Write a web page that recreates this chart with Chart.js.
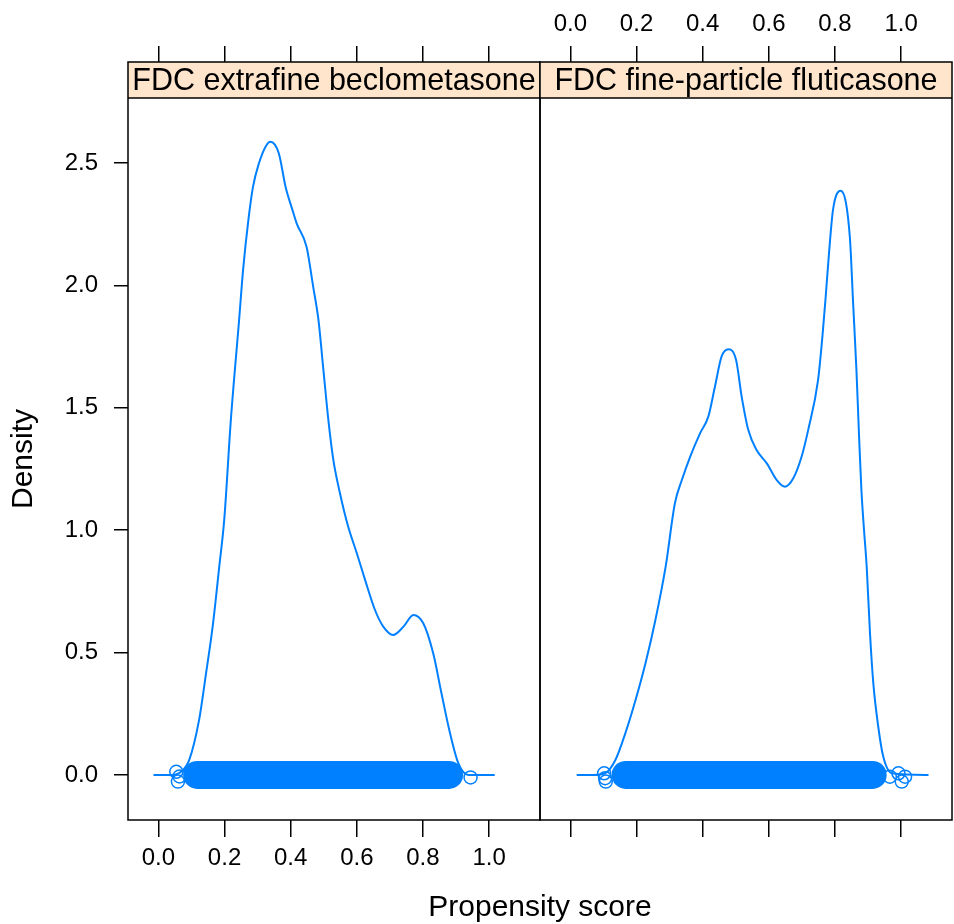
<!DOCTYPE html>
<html>
<head>
<meta charset="utf-8">
<script src="https://cdn.jsdelivr.net/npm/chart.js@4.4.1/dist/chart.umd.min.js"></script>
<style>
  html, body { margin: 0; padding: 0; background: #fff; }
  #wrap { position: relative; width: 954px; height: 924px; }
</style>
</head>
<body>
<div id="wrap"><canvas id="grafico"></canvas></div>
<script>
// panel titles and ticks
const panelNames = ['FDC extrafine beclometasone', 'FDC fine-particle fluticasone'];
const xTicks = [0, 0.2, 0.4, 0.6, 0.8, 1.0];
const yTicks = [0, 0.5, 1.0, 1.5, 2.0, 2.5];

// density curve, extrafine beclometasone
const beclX = [-0.015, 0.04, 0.063, 0.093, 0.123, 0.144, 0.164, 0.184, 0.199, 0.219, 0.244, 0.256, 0.272, 0.286,
  0.304, 0.324, 0.339, 0.364, 0.385, 0.405, 0.418, 0.448, 0.468, 0.484, 0.499, 0.514, 0.529, 0.549, 0.574, 0.6,
  0.625, 0.655, 0.68, 0.71, 0.741, 0.771, 0.801, 0.831, 0.856, 0.882, 0.907, 0.937, 0.97, 1.017];
const beclY = [0, 0, 0.008, 0.061, 0.225, 0.415, 0.606, 0.851, 1.042, 1.45, 1.859, 2.063, 2.267, 2.403,
  2.499, 2.567, 2.587, 2.54, 2.40, 2.31, 2.254, 2.158, 1.995, 1.859, 1.654, 1.45, 1.287, 1.151, 1.014, 0.906,
  0.797, 0.674, 0.606, 0.572, 0.606, 0.654, 0.62, 0.497, 0.334, 0.17, 0.048, 0.0, 0, 0];

// density curve, fine-particle fluticasone
const flutX = [0.019, 0.07, 0.105, 0.136, 0.166, 0.197, 0.227, 0.257, 0.288, 0.316, 0.337, 0.362, 0.392, 0.417,
  0.437, 0.457, 0.478, 0.501, 0.518, 0.538, 0.563, 0.594, 0.624, 0.649, 0.674, 0.699, 0.719, 0.749, 0.762, 0.772,
  0.782, 0.794, 0.817, 0.845, 0.855, 0.865, 0.873, 0.88, 0.888, 0.896, 0.906, 0.916, 0.931, 0.946, 0.972, 1.083];
const flutY = [0, 0, 0.007, 0.061, 0.17, 0.306, 0.456, 0.633, 0.851, 1.11, 1.205, 1.30, 1.396, 1.464,
  1.586, 1.709, 1.739, 1.695, 1.545, 1.409, 1.328, 1.273, 1.205, 1.178, 1.212, 1.30, 1.409, 1.614, 1.79, 1.954,
  2.131, 2.308, 2.387, 2.199, 1.927, 1.654, 1.382, 1.164, 1.0, 0.851, 0.579, 0.375, 0.197, 0.075, 0.007, 0];

// dense band of observations drawn at density 0 (start, end)
const beclRug = [0.117, 0.879];
const flutRug = [0.167, 0.914];

// isolated observations in the tails (x, jittered y)
const beclTailX = [0.054, 0.059, 0.064, 0.944];
const beclTailY = [0.013, -0.027, -0.006, -0.01];
const flutTailX = [0.102, 0.105, 0.107, 0.966, 0.992, 1.002, 1.012];
const flutTailY = [0.007, -0.013, -0.027, -0.007, 0.007, -0.027, -0.007];

const FONT = 'Liberation Sans, Arial, Helvetica, sans-serif';
const BLUE = '#0080ff';
const STRIP_H = 36;

const pts = (xs, ys) => xs.map((x, i) => ({ x: x, y: ys[i] }));

function xAxis(position, showLabels, weight) {
  return {
    type: 'linear',
    position: position,
    stack: position,
    stackWeight: 1,
    weight: weight,
    min: -0.092,
    max: 1.154,
    afterBuildTicks: s => { s.ticks = xTicks.map(v => ({ value: v })); },
    afterFit: s => {
      s.height = position === 'top' ? 62 : 104;
      s.paddingLeft = 0;
      s.paddingRight = 0;
    },
    ticks: {
      display: showLabels,
      font: { family: FONT, size: 24 },
      color: '#000',
      padding: 7,
      maxRotation: 0,
      autoSkip: false,
      callback: v => v.toFixed(1)
    },
    grid: { drawOnChartArea: false, tickLength: position === 'top' ? 16 : 17, color: '#000', lineWidth: 1.5 },
    border: { display: false }
  };
}

// strips, panel boxes and the shared axis titles
const latticePanels = {
  id: 'latticePanels',
  afterDraw(chart) {
    const ctx = chart.ctx;
    const { top, bottom } = chart.chartArea;
    ctx.save();
    ['xL', 'xR'].forEach((id, i) => {
      const s = chart.scales[id];
      ctx.fillStyle = '#ffe5cc';
      ctx.fillRect(s.left, top, s.right - s.left, STRIP_H);
      ctx.strokeStyle = '#000';
      ctx.lineWidth = 1.5;
      ctx.beginPath();
      ctx.moveTo(s.left, top + STRIP_H);
      ctx.lineTo(s.right, top + STRIP_H);
      ctx.stroke();
      ctx.strokeRect(s.left, top, s.right - s.left, bottom - top);
      ctx.fillStyle = '#000';
      ctx.font = '30.5px ' + FONT;
      ctx.textAlign = 'center';
      ctx.textBaseline = 'alphabetic';
      ctx.fillText(panelNames[i], (s.left + s.right) / 2, top + 28);
    });

    ctx.font = '30px ' + FONT;
    ctx.textAlign = 'center';
    ctx.textBaseline = 'middle';
    ctx.fillText('Propensity score', (chart.scales.xL.left + chart.scales.xR.right) / 2, 908);
    ctx.translate(24, (top + STRIP_H + bottom) / 2);
    ctx.rotate(-Math.PI / 2);
    ctx.fillText('Density', 0, 0);
    ctx.restore();
  }
};

const curve = (xs, ys, axis) => ({
  data: pts(xs, ys), xAxisID: axis, yAxisID: 'y',
  borderColor: BLUE, borderWidth: 2, pointRadius: 0,
  cubicInterpolationMode: 'monotone', fill: false
});
const band = (range, axis) => ({
  data: [{ x: range[0], y: 0 }, { x: range[1], y: 0 }], xAxisID: axis, yAxisID: 'y',
  borderColor: BLUE, borderWidth: 28, borderCapStyle: 'round', pointRadius: 0, fill: false
});
const tails = (xs, ys, axis) => ({
  type: 'scatter', data: pts(xs, ys), xAxisID: axis, yAxisID: 'y', showLine: false,
  pointRadius: 6.5, pointBorderWidth: 1.5, pointBorderColor: BLUE, pointBackgroundColor: 'rgba(0,0,0,0)'
});

let grafico = new Chart(document.getElementById('grafico').getContext('2d'), {
  type: 'line',
  data: {
    datasets: [
      curve(beclX, beclY, 'xL'),
      curve(flutX, flutY, 'xR'),
      band(beclRug, 'xL'),
      band(flutRug, 'xR'),
      tails(beclTailX, beclTailY, 'xL'),
      tails(flutTailX, flutTailY, 'xR')
    ]
  },
  options: {
    responsive: true,
    maintainAspectRatio: false,
    animation: false,
    layout: { autoPadding: false, padding: { left: 0, right: 2, top: 0, bottom: 0 } },
    plugins: { legend: { display: false }, tooltip: { enabled: false } },
    scales: {
      xL: xAxis('bottom', true, 1),
      xR: xAxis('bottom', false, 2),
      xLt: xAxis('top', false, 2),
      xRt: xAxis('top', true, 1),
      y: {
        type: 'linear',
        position: 'left',
        min: -0.184,
        max: 2.913,
        afterBuildTicks: s => { s.ticks = yTicks.map(v => ({ value: v })); },
        afterFit: s => {
          s.width = 128;
          s.paddingTop = 0;
          s.paddingBottom = 0;
        },
        ticks: {
          font: { family: FONT, size: 24 },
          color: '#000',
          padding: 16,
          callback: v => v.toFixed(1)
        },
        grid: { drawOnChartArea: false, tickLength: 14, color: '#000', lineWidth: 1.5 },
        border: { display: false }
      }
    }
  },
  plugins: [latticePanels]
});
</script>
</body>
</html>
